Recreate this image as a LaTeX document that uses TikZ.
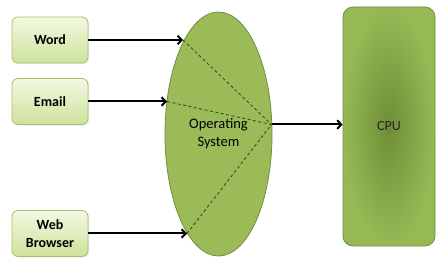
\documentclass[tikz,border=0pt]{standalone}
\usepackage{fontspec}
\setmainfont{Carlito}
\usetikzlibrary{shapes.geometric,shadows,arrows.meta}
\definecolor{boxtop}{HTML}{F3F8E2}
\definecolor{boxbot}{HTML}{CDE29C}
\definecolor{boxline}{HTML}{A3C068}
\definecolor{osfill}{HTML}{9BBB59}
\definecolor{osline}{HTML}{738F3A}
\definecolor{cpuin}{HTML}{6E8E36}
\definecolor{cpuout}{HTML}{96B955}
\definecolor{dashcol}{HTML}{2E4A12}
\begin{document}
\begin{tikzpicture}[x=1pt,y=-1pt,>={Straight Barb[length=4pt,width=8.5pt]},
  appbox/.style={draw=boxline,line width=0.8pt,rounded corners=6pt,
    top color=boxtop,bottom color=boxbot,minimum width=76pt,minimum height=46pt,
    align=center,font=\fontsize{14}{18}\selectfont\bfseries,
    drop shadow={shadow xshift=1.2pt,shadow yshift=-1.2pt,opacity=0.15}},
  link/.style={->,line width=2pt},
  hubline/.style={dash pattern=on 3pt off 2.5pt,line width=0.8pt,draw=dashcol}]
\useasboundingbox (0,0) rectangle (440,270);

\node[ellipse,draw=osline,line width=0.8pt,fill=osfill,minimum width=107pt,minimum height=244pt,
  align=center,font=\fontsize{14.5}{18}\selectfont] (os) at (218.5,134) {Operating\\System};
\node[draw=osline,line width=0.8pt,rounded corners=10pt,inner color=cpuin,outer color=cpuout,
  minimum width=92pt,minimum height=239pt,font=\fontsize{14}{17}\selectfont,text=black!85] (cpu) at (389,126.5) {CPU};

\node[appbox] (word) at (50,40) {Word};
\node[appbox] (email) at (50,101.5) {Email};
\node[appbox] (web) at (50,233.5) {Web\\Browser};

\coordinate (inword) at (183,40);
\coordinate (inemail) at (167,101.5);
\coordinate (inweb) at (187,233.5);
\coordinate (hub) at (271.5,124.5);

\draw[link] (word) -- (inword);
\draw[link] (email) -- (inemail);
\draw[link] (web) -- (inweb);

\draw[hubline] (inword) -- (hub);
\draw[hubline] (inemail) -- (hub);
\draw[hubline] (inweb) -- (hub);

\draw[link] (hub) -- (hub -| cpu.west);
\end{tikzpicture}
\end{document}
